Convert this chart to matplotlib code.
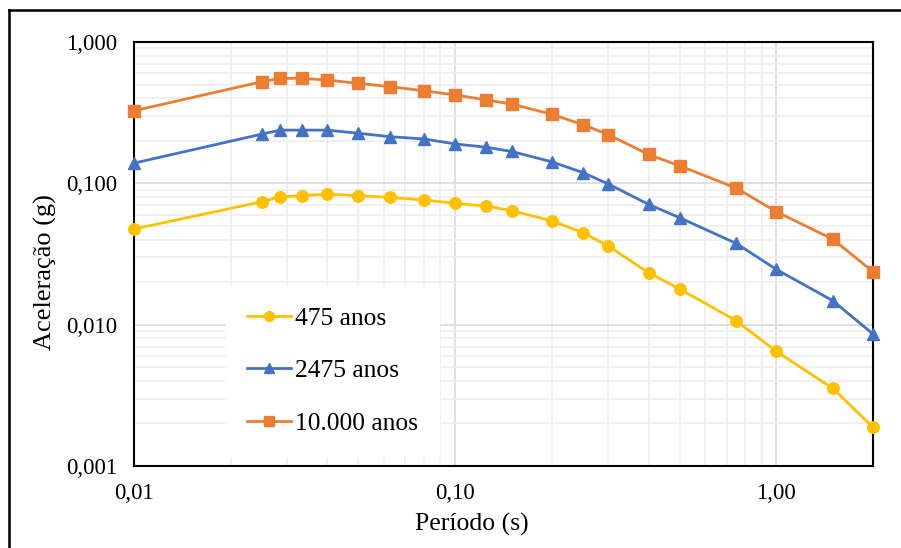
import numpy as np
import matplotlib
matplotlib.use("Agg")
import matplotlib.pyplot as plt
from matplotlib.ticker import FixedLocator, FixedFormatter, NullFormatter, LogLocator
from matplotlib.lines import Line2D

plt.rcParams['font.family'] = ['Liberation Serif', 'DejaVu Serif']

# períodos (s)
periodo = [0.01, 0.025, 1/35, 1/30, 0.04, 0.05, 0.0625, 0.08, 0.1, 0.125,
           0.15, 0.2, 0.25, 0.3, 0.4, 0.5, 0.75, 1.0, 1.5, 2.0]

# acelerações espectrais (g)
acel_475 = [0.0475, 0.0741, 0.0804, 0.0817, 0.0840, 0.0817, 0.0796, 0.0762, 0.0722, 0.0691,
            0.0640, 0.0543, 0.0447, 0.0360, 0.0233, 0.0179, 0.01066, 0.00647, 0.00354, 0.00188]
acel_2475 = [0.139, 0.223, 0.238, 0.238, 0.238, 0.226, 0.214, 0.206, 0.190, 0.180,
             0.168, 0.142, 0.119, 0.0989, 0.071, 0.0571, 0.0376, 0.0246, 0.01476, 0.00858]
acel_10000 = [0.326, 0.524, 0.553, 0.553, 0.538, 0.510, 0.483, 0.452, 0.422, 0.389,
              0.364, 0.308, 0.260, 0.221, 0.160, 0.133, 0.0926, 0.063, 0.0402, 0.0237]

series = [
    ("475 anos", acel_475, "#FFC000", "o"),
    ("2475 anos", acel_2475, "#4472C4", "^"),
    ("10.000 anos", acel_10000, "#ED7D31", "s"),
]

xticks = [0.01, 0.1, 1.0]
xlabels = ["0,01", "0,10", "1,00"]
yticks = [0.001, 0.01, 0.1, 1.0]
ylabels = ["0,001", "0,010", "0,100", "1,000"]

fig = plt.figure(figsize=(9.01, 5.48), dpi=100)
ax = fig.add_axes([134/901, 1-466/548, (873-134)/901, (466-42)/548])

for nome, y, cor, mk in series:
    ax.plot(periodo, y, color=cor, marker=mk, markersize=8.3, linewidth=2,
            label=nome, zorder=3, clip_on=False)

ax.set_xscale('log')
ax.set_yscale('log')
ax.set_xlim(0.01, 2.0)
ax.set_ylim(0.001, 1.0)

ax.xaxis.set_major_locator(FixedLocator(xticks))
ax.xaxis.set_major_formatter(FixedFormatter(xlabels))
ax.yaxis.set_major_locator(FixedLocator(yticks))
ax.yaxis.set_major_formatter(FixedFormatter(ylabels))
ax.xaxis.set_minor_locator(LogLocator(base=10, subs=np.arange(2, 10)))
ax.yaxis.set_minor_locator(LogLocator(base=10, subs=np.arange(2, 10)))
ax.xaxis.set_minor_formatter(NullFormatter())
ax.yaxis.set_minor_formatter(NullFormatter())

ax.grid(which='major', color='#D9D9D9', linewidth=1.2, zorder=0)
ax.grid(which='minor', color='#EDEDED', linewidth=1.2, zorder=0)
ax.set_axisbelow(True)

ax.tick_params(which='both', length=0, labelsize=16.5)
ax.tick_params(axis='x', pad=12)
ax.tick_params(axis='y', pad=12)
for sp in ax.spines.values():
    sp.set_color('black')
    sp.set_linewidth(1.5)

ax.set_xlabel("Período (s)", fontsize=18.5)
ax.xaxis.set_label_coords(0.457, -0.111)
ax.set_ylabel("Aceleração (g)", fontsize=19)
ax.yaxis.set_label_coords(-0.104, 0.458)

leg = ax.legend(loc='upper left', bbox_to_anchor=((226-134)/739, 1-(286-42)/424),
                fontsize=18.4, frameon=True, fancybox=False, edgecolor='white',
                framealpha=1, handlelength=1.72, handletextpad=0.16,
                labelspacing=1.16, borderpad=0.82, borderaxespad=0, markerscale=0.85)

# moldura externa (cortada à direita e em baixo)
fig.add_artist(Line2D([9/901, 1], [1-10/548, 1-10/548], color='black', linewidth=1.8,
                      transform=fig.transFigure))
fig.add_artist(Line2D([9/901, 9/901], [0, 1-10/548], color='black', linewidth=1.8,
                      transform=fig.transFigure))

fig.savefig("out.png", dpi=100)
